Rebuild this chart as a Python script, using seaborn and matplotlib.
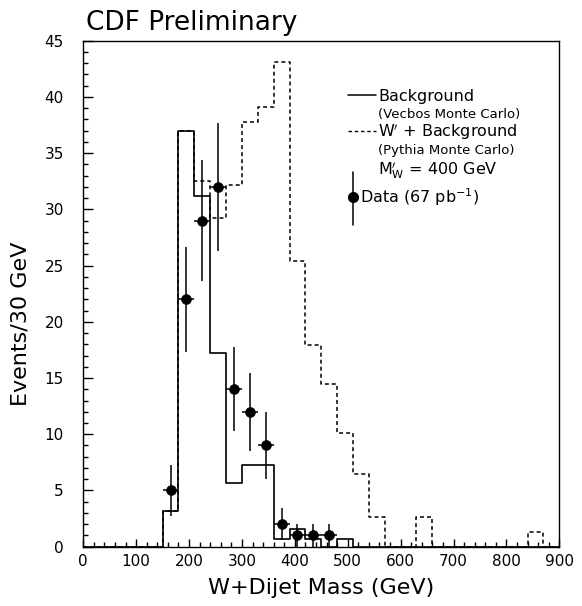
import matplotlib
matplotlib.use("Agg")
import matplotlib.pyplot as plt
import seaborn as sns

# ---------------- data ----------------
bin_edges = list(range(0, 901, 30))
bin_centers = [e + 15 for e in bin_edges[:-1]]

background = [0, 0, 0, 0, 0, 3.2, 37.0, 31.2, 17.2, 5.7, 7.3, 7.3, 0.7, 1.6, 0.7,
              0, 0.7, 0, 0, 0, 0, 0, 0, 0, 0, 0, 0, 0, 0, 0]
wprime_bkg = [0, 0, 0, 0, 0, 3.2, 37.0, 32.5, 29.2, 32.2, 37.8, 39.1, 43.1, 25.4, 17.9,
              14.5, 10.1, 6.5, 2.6, 0, 0, 2.6, 0, 0, 0, 0, 0, 0, 1.3, 0]

data_mass = [165, 195, 225, 255, 285, 315, 345, 375, 405, 435, 465]
data_counts = [5, 22, 29, 32, 14, 12, 9, 2, 1, 1, 1]
data_err = [2.24, 4.69, 5.39, 5.66, 3.74, 3.46, 3.0, 1.41, 1.0, 1.0, 1.0]
data_xerr = [15] * len(data_mass)

x_ticks = [0, 100, 200, 300, 400, 500, 600, 700, 800, 900]
y_ticks = [0, 5, 10, 15, 20, 25, 30, 35, 40, 45]

# ---------------- style ----------------
sns.set_style("ticks")
plt.rcParams['font.family'] = ['DejaVu Sans']
plt.rcParams['mathtext.fontset'] = 'dejavusans'
for k in ['text.color', 'axes.labelcolor', 'xtick.color', 'ytick.color', 'axes.edgecolor']:
    plt.rcParams[k] = 'black'

fig = plt.figure(figsize=(5.82, 6.06), dpi=100)
ax = fig.add_axes([0.1431, 0.0979, 0.8179, 0.8349])

sns.histplot(x=bin_centers, weights=wprime_bkg, bins=bin_edges, element="step",
             fill=False, color="black", linewidth=1.1, linestyle=(0, (2.6, 2.0)), ax=ax)
sns.histplot(x=bin_centers, weights=background, bins=bin_edges, element="step",
             fill=False, color="black", linewidth=1.2, ax=ax)

ax.errorbar(data_mass, data_counts, yerr=data_err, xerr=data_xerr, fmt="none",
            ecolor="black", elinewidth=1.1, capsize=0, zorder=3)
sns.scatterplot(x=data_mass, y=data_counts, color="black", s=50, edgecolor="black",
                linewidth=0.5, zorder=4, ax=ax)

ax.set_xlim(0, 900)
ax.set_ylim(0, 45)
ax.set_xticks(x_ticks)
ax.set_yticks(y_ticks)
ax.set_xticks(list(range(0, 901, 20)), minor=True)
ax.set_yticks(list(range(0, 46, 1)), minor=True)
ax.tick_params(axis="both", which="both", direction="in", top=False, right=False,
               width=1.0, labelsize=11, colors="black")
ax.tick_params(axis="y", which="major", length=7.2, pad=14)
ax.tick_params(axis="y", which="minor", length=3.6)
ax.tick_params(axis="x", which="major", length=6.0, pad=5)
ax.tick_params(axis="x", which="minor", length=3.6)
for s in ax.spines.values():
    s.set_visible(True)
    s.set_linewidth(1.0)
    s.set_color("black")

ax.set_xlabel("W+Dijet Mass (GeV)", fontsize=16)
ax.set_ylabel("Events/30 GeV", fontsize=16)
ax.xaxis.set_label_coords(0.5, -0.062)
ax.yaxis.set_label_coords(-0.11, 0.44)

ax.text(0.005, 1.021, "CDF Preliminary", transform=ax.transAxes, fontsize=19,
        ha="left", va="baseline")

# ---------------- legend (drawn manually) ----------------
tA = ax.transAxes
main_fs = 11.5
sub_fs = 9.5
ax.plot([0.556, 0.615], [0.893, 0.893], color="black", lw=1.1, transform=tA)
ax.text(0.619, 0.881, "Background", transform=tA, fontsize=main_fs, va="baseline", ha="left")
ax.text(0.619, 0.848, "(Vecbos Monte Carlo)", transform=tA, fontsize=sub_fs,
        va="baseline", ha="left")
ax.plot([0.556, 0.615], [0.822, 0.822], color="black", lw=1.0, linestyle=(0, (2.5, 2.0)),
        transform=tA)
ax.text(0.619, 0.810, r"W$^{\prime}$ + Background", transform=tA, fontsize=main_fs,
        va="baseline", ha="left")
ax.text(0.619, 0.777, "(Pythia Monte Carlo)", transform=tA, fontsize=sub_fs,
        va="baseline", ha="left")
ax.text(0.619, 0.736, r"M$_{\mathrm{W}}^{\prime}$ = 400 GeV", transform=tA, fontsize=main_fs,
        va="baseline", ha="left")
ax.plot([0.566, 0.566], [0.636, 0.740], color="black", lw=1.1, transform=tA)
ax.plot([0.566], [0.692], marker="o", markersize=7.0, color="black", transform=tA)
ax.text(0.582, 0.680, r"Data (67 pb$^{-1}$)", transform=tA, fontsize=main_fs,
        va="baseline", ha="left")

fig.savefig("out.png", dpi=100)
